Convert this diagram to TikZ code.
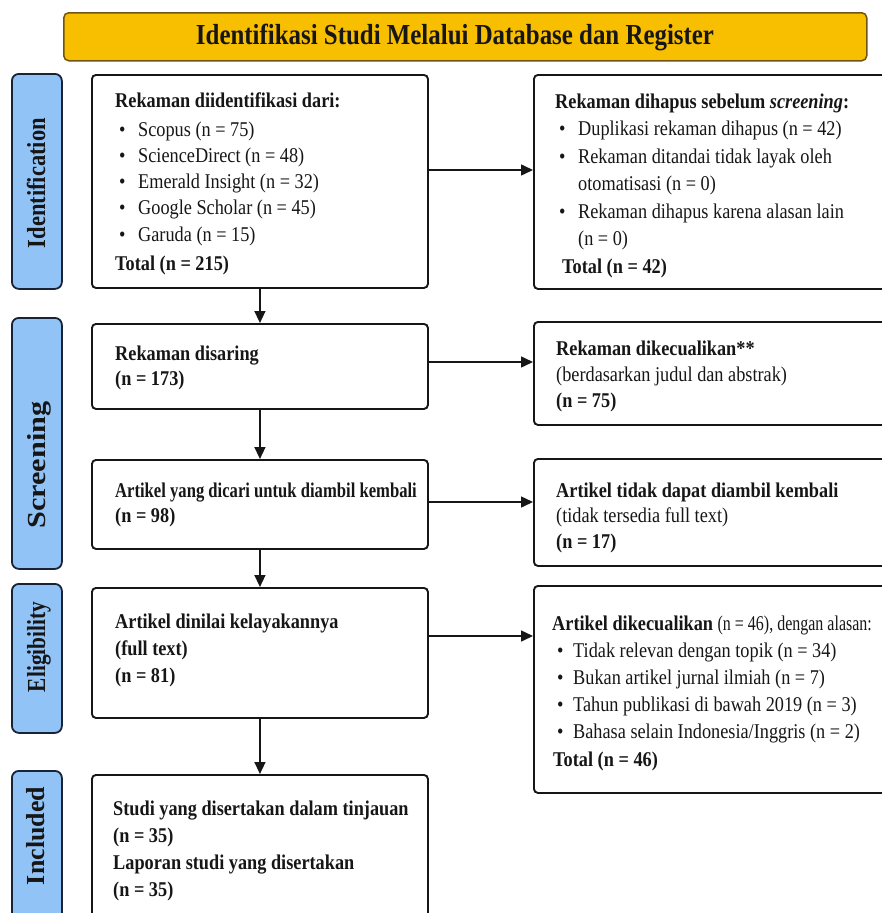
\documentclass[tikz,border=0pt]{standalone}
\usepackage{fontspec}
\usepackage{graphicx}
\setmainfont{Liberation Serif}[FakeStretch=0.87]
\usetikzlibrary{arrows.meta}
\definecolor{hdrfill}{RGB}{248,190,0}
\definecolor{hdrline}{RGB}{110,85,20}
\definecolor{lblfill}{RGB}{145,195,246}
\definecolor{lblline}{RGB}{25,35,55}
\definecolor{ink}{RGB}{22,22,22}
\newcommand\bitem[1]{\hspace*{4pt}\makebox[19pt][l]{\textbullet}#1}
\newcommand\bitemb[1]{\hspace*{5pt}\makebox[16pt][l]{\textbullet}#1}
\begin{document}
\begin{tikzpicture}[x=1pt,y=-1pt,
  box/.style={draw=ink, line width=1.9pt, rounded corners=4pt, inner sep=0pt, anchor=north west, minimum width=#1},
  box/.default=336pt,
  sidebox/.style={draw=lblline, line width=1.8pt, rounded corners=7pt, fill=lblfill, inner sep=0pt, anchor=north west, minimum width=50pt},
  txt/.style={anchor=base west, inner sep=0pt, text=ink, font=\fontsize{21}{#1}\selectfont},
  txt/.default=26pt,
  sidetxt/.style={rotate=90, anchor=base, inner sep=0pt, text=ink, font=\fontsize{26}{30}\selectfont\bfseries},
  arr/.style={draw=ink, line width=1.5pt, -{Triangle[length=12pt,width=11pt]}}]
\useasboundingbox (0,0) rectangle (881,913);

% header
\node[draw=hdrline, line width=1.5pt, fill=hdrfill, rounded corners=5pt, minimum width=803pt, minimum height=48pt, inner sep=0pt, anchor=north west] (hdr) at (63,12) {};
\node[anchor=base, inner sep=0pt, text=ink, font=\fontsize{29}{34}\selectfont\bfseries] (hdrtxt) at (455,44) {\resizebox{518pt}{\height}{Identifikasi Studi Melalui Database dan Register}};

% side labels
\node[sidebox, minimum height=215pt] (sid) at (11,73) {};
\node[sidebox, minimum height=251pt] (sscr) at (11,317) {};
\node[sidebox, minimum height=149pt] (selig) at (11,583) {};
\node[sidebox, minimum height=160pt] (sinc) at (11,770) {};
\node[sidetxt] (tid) at (45,183) {\resizebox{130pt}{\height}{Identification}};
\node[sidetxt] (tscr) at (45,465) {\resizebox{127pt}{\height}{Screening}};
\node[sidetxt] (telig) at (45,647) {\resizebox{90pt}{\height}{Eligibility}};
\node[sidetxt] (tinc) at (44,836) {\resizebox{98pt}{\height}{Included}};

% left column boxes
\node[box, minimum height=213pt] (b1) at (91,74) {};
\node[box, minimum height=85pt] (b2) at (91,323) {};
\node[box, minimum height=89pt] (b3) at (91,459) {};
\node[box, minimum height=130pt] (b4) at (91,587) {};
\node[box, minimum height=160pt] (b5) at (91,774) {};

% right column boxes
\node[box=360pt, minimum height=214pt] (r1) at (533,74) {};
\node[box=360pt, minimum height=103pt] (r2) at (533,321) {};
\node[box=360pt, minimum height=107pt] (r3) at (533,458) {};
\node[box=360pt, minimum height=207pt] (r4) at (533,585) {};

% texts left
\node[txt=26.3pt] (t1) at (115,107) {\begin{tabular}[t]{@{}l@{}}
\textbf{Rekaman diidentifikasi dari:}\\[2.7pt]
\bitem{Scopus (n = 75)}\\
\bitem{ScienceDirect (n = 48)}\\
\bitem{Emerald Insight (n = 32)}\\
\bitem{Google Scholar (n = 45)}\\
\bitem{Garuda (n = 15)}\\[3pt]
\textbf{Total (n = 215)}
\end{tabular}};
\node[txt=25pt] (t2) at (115,360) {\begin{tabular}[t]{@{}l@{}}
\textbf{Rekaman disaring}\\
\textbf{(n = 173)}
\end{tabular}};
\node[txt=25pt] (t3) at (115,497) {\begin{tabular}[t]{@{}l@{}}
\scalebox{0.91}[1]{\textbf{Artikel yang dicari untuk diambil kembali}}\\
\textbf{(n = 98)}
\end{tabular}};
\node[txt=27pt] (t4) at (115,628) {\begin{tabular}[t]{@{}l@{}}
\textbf{Artikel dinilai kelayakannya}\\
\textbf{(full text)}\\
\textbf{(n = 81)}
\end{tabular}};
\node[txt=27.3pt] (t5) at (113,815) {\begin{tabular}[t]{@{}l@{}}
\textbf{Studi yang disertakan dalam tinjauan}\\
\textbf{(n = 35)}\\
\textbf{Laporan studi yang disertakan}\\
\textbf{(n = 35)}
\end{tabular}};

% texts right
\node[txt=27.5pt] (u1) at (555,108) {\begin{tabular}[t]{@{}l@{}}
\textbf{Rekaman dihapus sebelum \textit{screening}:}\\
\bitem{Duplikasi rekaman dihapus (n = 42)}\\
\bitem{Rekaman ditandai tidak layak oleh}\\
\hspace*{23pt}otomatisasi (n = 0)\\
\bitem{Rekaman dihapus karena alasan lain}\\
\hspace*{23pt}(n = 0)\\
\hspace*{7pt}\textbf{Total (n = 42)}
\end{tabular}};
\node[txt=26pt] (u2) at (556,355) {\begin{tabular}[t]{@{}l@{}}
\textbf{Rekaman dikecualikan**}\\
(berdasarkan judul dan abstrak)\\
\textbf{(n = 75)}
\end{tabular}};
\node[txt=25.5pt] (u3) at (556,497) {\begin{tabular}[t]{@{}l@{}}
\textbf{Artikel tidak dapat diambil kembali}\\
(tidak tersedia full text)\\
\textbf{(n = 17)}
\end{tabular}};
\node[txt=27pt] (u4) at (552,630) {\begin{tabular}[t]{@{}l@{}}
\textbf{Artikel dikecualikan} \scalebox{0.875}[1]{(n = 46), dengan alasan:}\\
\bitemb{Tidak relevan dengan topik (n = 34)}\\
\bitemb{Bukan artikel jurnal ilmiah (n = 7)}\\
\bitemb{Tahun publikasi di bawah 2019 (n = 3)}\\
\bitemb{Bahasa selain Indonesia/Inggris (n = 2)}\\[1pt]
\hspace*{1pt}\textbf{Total (n = 46)}
\end{tabular}};

% arrows
\draw[arr] (b1.south) -- (b2.north);
\draw[arr] (b2.south) -- (b3.north);
\draw[arr] (b3.south) -- (b4.north);
\draw[arr] (b4.south) -- (b5.north);
\draw[arr] (b1.east |- 0,170) -- (r1.west |- 0,170);
\draw[arr] (b2.east |- 0,362) -- (r2.west |- 0,362);
\draw[arr] (b3.east |- 0,502) -- (r3.west |- 0,502);
\draw[arr] (b4.east |- 0,636) -- (r4.west |- 0,636);
\end{tikzpicture}
\end{document}
